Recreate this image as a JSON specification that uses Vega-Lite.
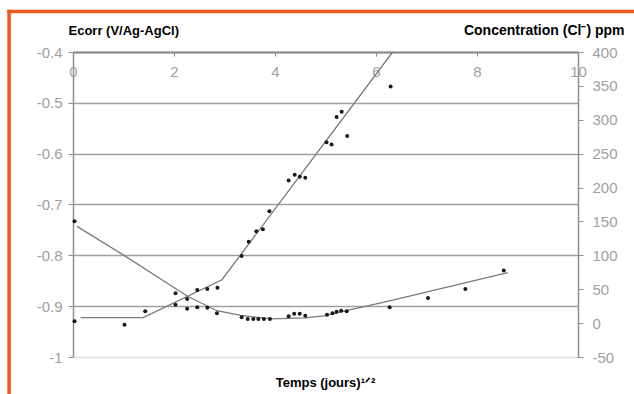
{
  "$schema": "https://vega.github.io/schema/vega-lite/v6.json",
  "width": 505,
  "height": 305,
  "autosize": "none",
  "padding": {"left": 73, "top": 52, "right": 56, "bottom": 37},
  "background": "white",
  "config": {"view": {"stroke": null}, "font": "Liberation Sans"},
  "datasets": {
    "ecorr_pts": [
      {"t": 0.03, "E": -0.733}, {"t": 2.03, "E": -0.897}, {"t": 2.26, "E": -0.905},
      {"t": 2.46, "E": -0.902}, {"t": 2.66, "E": -0.903}, {"t": 2.85, "E": -0.914},
      {"t": 3.34, "E": -0.922}, {"t": 3.46, "E": -0.925}, {"t": 3.57, "E": -0.925},
      {"t": 3.67, "E": -0.925}, {"t": 3.78, "E": -0.925}, {"t": 3.90, "E": -0.925},
      {"t": 4.27, "E": -0.920}, {"t": 4.38, "E": -0.915}, {"t": 4.49, "E": -0.915},
      {"t": 4.60, "E": -0.919}, {"t": 5.03, "E": -0.917}, {"t": 5.14, "E": -0.914},
      {"t": 5.22, "E": -0.911}, {"t": 5.31, "E": -0.909}, {"t": 5.42, "E": -0.910},
      {"t": 6.27, "E": -0.902}, {"t": 7.03, "E": -0.884}, {"t": 7.77, "E": -0.866},
      {"t": 8.53, "E": -0.830}
    ],
    "ecorr_fit": [
      {"t": 0.08, "E": -0.743}, {"t": 1.04, "E": -0.802}, {"t": 2.26, "E": -0.880},
      {"t": 2.85, "E": -0.909}, {"t": 3.32, "E": -0.918}, {"t": 3.92, "E": -0.925},
      {"t": 4.60, "E": -0.923}, {"t": 4.96, "E": -0.919}, {"t": 5.50, "E": -0.907},
      {"t": 6.29, "E": -0.889}, {"t": 8.61, "E": -0.834}
    ],
    "conc_pts": [
      {"t": 0.03, "C": 2.6}, {"t": 1.02, "C": -2.3}, {"t": 1.43, "C": 17.4},
      {"t": 2.03, "C": 44}, {"t": 2.26, "C": 35.7}, {"t": 2.46, "C": 49},
      {"t": 2.66, "C": 50.5}, {"t": 2.86, "C": 52}, {"t": 3.34, "C": 99},
      {"t": 3.48, "C": 120}, {"t": 3.63, "C": 135.5}, {"t": 3.76, "C": 138.5},
      {"t": 3.89, "C": 165}, {"t": 4.27, "C": 210.5}, {"t": 4.39, "C": 219},
      {"t": 4.49, "C": 216}, {"t": 4.60, "C": 214.5}, {"t": 5.02, "C": 267},
      {"t": 5.12, "C": 263.6}, {"t": 5.22, "C": 304}, {"t": 5.32, "C": 312},
      {"t": 5.43, "C": 276}, {"t": 6.29, "C": 349}
    ],
    "conc_fit": [
      {"t": 0.15, "C": 8}, {"t": 1.39, "C": 8}, {"t": 2.95, "C": 64}, {"t": 6.33, "C": 400}
    ],
    "frame": [{"edge": "top"}]
  },
  "layer": [
    {
      "data": {"name": "frame"},
      "mark": {"type": "rule", "color": "#F05A1E", "strokeWidth": 3.5, "clip": false},
      "encoding": {
        "x": {"datum": -1.3, "type": "quantitative", "scale": {"domain": [0, 10], "nice": false, "zero": false}},
        "x2": {"datum": 12},
        "y": {"datum": -0.3204, "type": "quantitative", "scale": {"domain": [-1, -0.4], "nice": false, "zero": false}, "axis": null}
      }
    },
    {
      "data": {"name": "frame"},
      "mark": {"type": "rule", "color": "#F05A1E", "strokeWidth": 3.5, "clip": false},
      "encoding": {
        "x": {"datum": -1.265, "type": "quantitative"},
        "y": {"datum": -0.317, "type": "quantitative", "scale": {"domain": [-1, -0.4], "nice": false, "zero": false}, "axis": null},
        "y2": {"datum": -1.1}
      }
    },
    {
      "encoding": {
        "x": {
          "field": "t",
          "type": "quantitative",
          "scale": {"domain": [0, 10], "nice": false, "zero": false},
          "axis": {
            "orient": "top",
            "values": [0, 2, 4, 6, 8, 10],
            "grid": false,
            "labelFlush": false,
            "domainColor": "#8a8a8a",
            "domainWidth": 2,
            "tickColor": "#8a8a8a",
            "tickSize": -4,
            "labelPadding": -23,
            "labelColor": "#a0a0a0",
            "labelFontSize": 15,
            "title": "Temps (jours)¹ᐟ²",
            "titleFontSize": 13,
            "titleFontWeight": "bold",
            "titleColor": "#000000",
            "titleX": 252,
            "titleY": 334,
            "titleBaseline": "alphabetic",
            "titleAlign": "center"
          }
        },
        "y": {
          "field": "E",
          "type": "quantitative",
          "scale": {"domain": [-1, -0.4], "nice": false, "zero": false},
          "axis": {
            "orient": "left",
            "values": [-1, -0.9, -0.8, -0.7, -0.6, -0.5, -0.4],
            "labelExpr": "'' + datum.value",
            "grid": true,
            "gridColor": {"condition": {"test": "datum.value < -0.95", "value": "#dedede"}, "value": "#a0a0a0"},
            "gridWidth": 1.6,
            "domainColor": "#909090",
            "domainWidth": 1.5,
            "tickColor": "#909090",
            "tickSize": 5,
            "labelPadding": 6,
            "labelColor": "#a0a0a0",
            "labelFontSize": 15,
            "title": "Ecorr (V/Ag-AgCl)",
            "titleAngle": 0,
            "titleAlign": "left",
            "titleBaseline": "alphabetic",
            "titleX": -5,
            "titleY": -18,
            "titleFontSize": 13,
            "titleFontWeight": "bold",
            "titleColor": "#000000"
          }
        }
      },
      "layer": [
        {
          "data": {"name": "ecorr_fit"},
          "mark": {"type": "line", "color": "#7a7a7a", "strokeWidth": 1.3}
        },
        {
          "data": {"name": "ecorr_pts"},
          "mark": {"type": "point", "filled": true, "shape": "circle", "size": 16, "color": "#1a1a1a", "opacity": 1}
        }
      ]
    },
    {
      "encoding": {
        "x": {"field": "t", "type": "quantitative"},
        "y": {
          "field": "C",
          "type": "quantitative",
          "scale": {"domain": [-50, 400], "nice": false, "zero": false},
          "axis": {
            "orient": "right",
            "values": [-50, 0, 50, 100, 150, 200, 250, 300, 350, 400],
            "labelExpr": "'' + datum.value",
            "grid": false,
            "domainColor": "#909090",
            "domainWidth": 1.5,
            "tickColor": "#909090",
            "tickSize": 5,
            "labelPadding": 9,
            "labelColor": "#a0a0a0",
            "labelFontSize": 15,
            "title": "Concentration (Cl⁻) ppm",
            "titleAngle": 0,
            "titleAlign": "right",
            "titleBaseline": "alphabetic",
            "titleX": 46,
            "titleY": -18,
            "titleFontSize": 14,
            "titleFontWeight": "bold",
            "titleColor": "#000000"
          }
        }
      },
      "layer": [
        {
          "data": {"name": "conc_fit"},
          "mark": {"type": "line", "color": "#7a7a7a", "strokeWidth": 1.3}
        },
        {
          "data": {"name": "conc_pts"},
          "mark": {"type": "point", "filled": true, "shape": "circle", "size": 16, "color": "#1a1a1a", "opacity": 1}
        }
      ]
    }
  ],
  "resolve": {"scale": {"y": "independent"}, "axis": {"y": "independent"}}
}
